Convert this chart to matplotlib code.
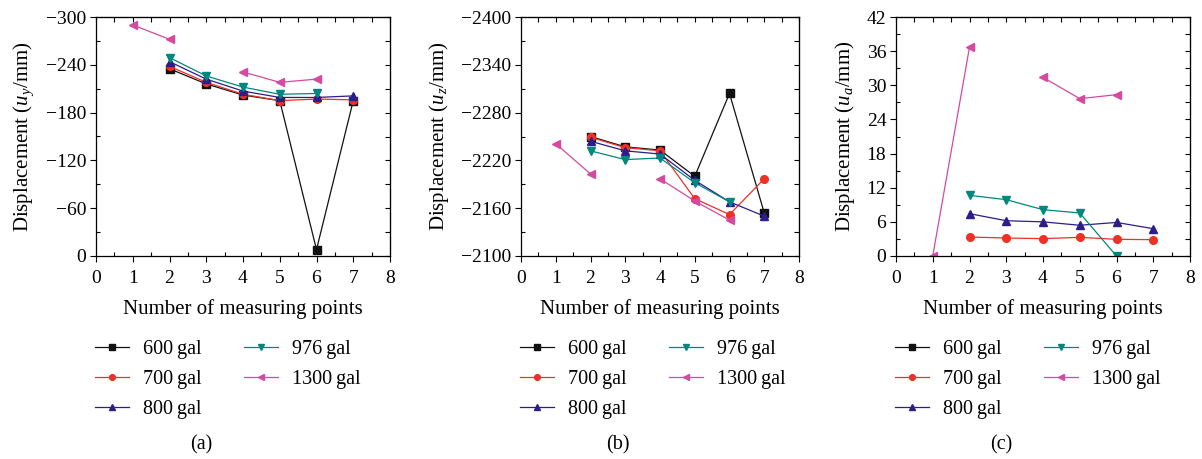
import numpy as np
import matplotlib
matplotlib.use("Agg")
import matplotlib.pyplot as plt
from matplotlib.ticker import MultipleLocator

plt.rcParams['font.family'] = ['Liberation Serif', 'DejaVu Serif']
plt.rcParams['mathtext.fontset'] = 'custom'
plt.rcParams['mathtext.rm'] = 'Liberation Serif'
plt.rcParams['mathtext.it'] = 'Liberation Serif:italic'

nan = np.nan
points = [1, 2, 3, 4, 5, 6, 7]
labels = ['600\u2009gal', '700\u2009gal', '800\u2009gal', '976\u2009gal', '1300\u2009gal']
colors = ['#111111', '#ee3124', '#2d1c8c', '#00877e', '#d44aa0']
markers = ['s', 'o', '^', 'v', '<']

# (a) u_y
uy_600 = [nan, -235, -216, -202, -195, -8, -195]
uy_700 = [nan, -238, -218, -203, -195, -197, -196]
uy_800 = [nan, -244, -222, -207, -199, -199, -201]
uy_976 = [nan, -249, -226, -212, -203, -204, nan]
uy_1300 = [-290, -272, nan, -231, -218, -222, nan]

# (b) u_z
uz_600 = [nan, -2250, -2237, -2233, -2200, -2304, -2154]
uz_700 = [nan, -2249, -2236, -2232, -2172, -2152, -2197]
uz_800 = [nan, -2244, -2232, -2228, -2195, -2168, -2150]
uz_976 = [nan, -2232, -2221, -2223, -2192, -2168, nan]
uz_1300 = [-2241, -2203, nan, -2197, -2169, -2145, nan]

# (c) u_a
ua_600 = [nan, nan, nan, nan, nan, nan, nan]
ua_700 = [nan, 3.34, 3.16, 3.05, 3.28, 2.93, 2.87]
ua_800 = [nan, 7.44, 6.2, 6.0, 5.4, 5.9, 4.8]
ua_976 = [nan, 10.66, 9.9, 8.14, 7.56, 0.0, nan]
ua_1300 = [0.0, 36.7, nan, 31.4, 27.65, 28.35, nan]

panels = [
    ([uy_600, uy_700, uy_800, uy_976, uy_1300], (0, -300), 60, 'y', '(a)'),
    ([uz_600, uz_700, uz_800, uz_976, uz_1300], (-2100, -2400), 60, 'z', '(b)'),
    ([ua_600, ua_700, ua_800, ua_976, ua_1300], (0, 42), 6, 'a', '(c)'),
]
lefts = [96, 521, 896]
rights = [390, 799, 1190]

W, H = 1202, 459
fig = plt.figure(figsize=(W / 100, H / 100), dpi=100)

for (series, ylim, ystep, sub, cap), l, r in zip(panels, lefts, rights):
    ax = fig.add_axes([l / W, 1 - 256 / H, (r - l) / W, (256 - 17) / H])
    for s, lab, c, m in zip(series, labels, colors, markers):
        ax.plot(points, s, color=c, marker=m, markersize=5.5, lw=0.9, label=lab)
    ax.set_xlim(0, 8)
    ax.set_ylim(*ylim)
    ax.xaxis.set_major_locator(MultipleLocator(1))
    ax.xaxis.set_minor_locator(MultipleLocator(0.5))
    ax.yaxis.set_major_locator(MultipleLocator(ystep))
    ax.yaxis.set_minor_locator(MultipleLocator(ystep / 2))
    ax.tick_params(which='major', direction='out', length=4, width=0.8, labelsize=14, pad=3)
    ax.tick_params(axis='x', which='major', pad=6)
    ax.tick_params(which='minor', direction='in', length=3, width=0.8)
    for sp in ax.spines.values():
        sp.set_linewidth(0.9)
    sy = ax.secondary_yaxis('right')
    sy.yaxis.set_major_locator(MultipleLocator(ystep))
    sy.yaxis.set_minor_locator(MultipleLocator(ystep / 2))
    sy.tick_params(which='both', direction='in', labelright=False, length=3.5, width=0.8)
    sx = ax.secondary_xaxis('top')
    sx.xaxis.set_major_locator(MultipleLocator(1))
    sx.xaxis.set_minor_locator(MultipleLocator(0.5))
    sx.tick_params(which='both', direction='in', labeltop=False, length=3.5, width=0.8)
    ax.set_xlabel('Number of measuring points', fontsize=15, labelpad=9)
    ax.set_ylabel(r'Displacement ($u_%s$/mm)' % sub, fontsize=15, labelpad=7)
    ax.legend(loc='upper left', bbox_to_anchor=(-0.005, -0.35), ncol=2, frameon=False,
              fontsize=14.5, handlelength=1.7, handletextpad=0.7, columnspacing=2.1,
              labelspacing=0.55, borderaxespad=0, borderpad=0, markerscale=0.75)
    fig.text((l + r) / 2 / W - 42 / W, 1 - 445 / H, cap, ha='center', va='center', fontsize=14.5)

fig.savefig('out.png', dpi=100)
